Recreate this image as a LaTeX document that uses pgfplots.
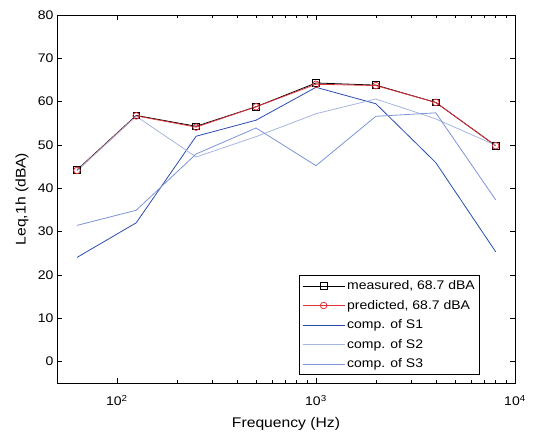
\documentclass[border=0pt]{standalone}
\usepackage{fontspec}
\setmainfont{Liberation Sans}[FakeStretch=1.12]
\usepackage{pgfplots}
\pgfplotsset{compat=1.18}
\definecolor{sone}{HTML}{2A4DAE}
\definecolor{stwo}{HTML}{A6B6E0}
\definecolor{sthree}{HTML}{7C94D8}
\definecolor{pred}{HTML}{E0303A}
\begin{document}
\begin{tikzpicture}
\begin{axis}[
  name=ax,
  xmode=log, scale only axis, width=458pt, height=368pt,
  xmin=50, xmax=10000, ymin=-5, ymax=80,
  ytick={0,10,...,80},
  xtick={100,1000,10000},
  xticklabels={10\textsuperscript{2},10\textsuperscript{3},10\textsuperscript{4}},
  tick align=inside, tick pos=both,
  major tick length=5pt, minor tick length=3pt,
  every tick/.style={black, line width=0.5pt},
  axis line style={line width=0.7pt},
  /pgf/number format/assume math mode=true,
  ticklabel style={font=\fontsize{12.5}{14}\selectfont},
  xticklabel style={yshift=-9pt},
  xlabel={Frequency (Hz)}, ylabel={Leq,1h (dBA)},
  label style={font=\fontsize{14}{16}\selectfont},
  xlabel style={at={(axis description cs:0.5,-0.1196)}, anchor=base},
  ylabel style={at={(axis description cs:-0.0764,0.5)}, anchor=center},
  legend cell align=left,
  legend style={at={(0.924,0.022)}, anchor=south east, draw=black, line width=0.9pt,
    font=\fontsize{12.5}{14}\selectfont, row sep=5pt, inner sep=3pt,
    nodes={inner sep=2pt}},
  legend image code/.code={\draw[mark repeat=2,mark phase=2,#1] plot coordinates {(0cm,0cm) (0.74cm,0cm) (1.48cm,0cm)};},
]
\addplot[black, line width=0.8pt, mark=square, mark size=3.3pt, mark options={solid, line width=0.8pt}] coordinates {
 (63,44.2) (125,56.8) (250,54.3) (500,58.8) (1000,64.3) (2000,63.8) (4000,59.8) (8000,49.8)};
\addlegendentry{measured, 68.7 dBA}
\addplot[pred, line width=0.8pt, mark=o, mark size=3.3pt, mark options={solid, line width=0.8pt}] coordinates {
 (63,44.1) (125,56.7) (250,54.1) (500,58.8) (1000,64.0) (2000,63.7) (4000,59.8) (8000,49.8)};
\addlegendentry{predicted, 68.7 dBA}
\addplot[sone, line width=0.8pt] coordinates {
 (63,24.0) (125,32.0) (250,52.0) (500,55.7) (1000,63.3) (2000,59.5) (4000,45.9) (8000,25.3)};
\addlegendentry{comp. of S1}
\addplot[stwo, line width=0.8pt] coordinates {
 (63,44.0) (125,56.6) (250,47.2) (500,51.9) (1000,57.2) (2000,60.6) (4000,56.0) (8000,49.9)};
\addlegendentry{comp. of S2}
\addplot[sthree, line width=0.8pt] coordinates {
 (63,31.4) (125,34.9) (250,47.9) (500,53.9) (1000,45.2) (2000,56.6) (4000,57.4) (8000,37.3)};
\addlegendentry{comp. of S3}
\end{axis}
\pgfresetboundingbox
\path[use as bounding box] ([shift={(-57pt,-49pt)}]ax.south west) rectangle ([shift={(19pt,15pt)}]ax.north east);
\end{tikzpicture}
\end{document}
